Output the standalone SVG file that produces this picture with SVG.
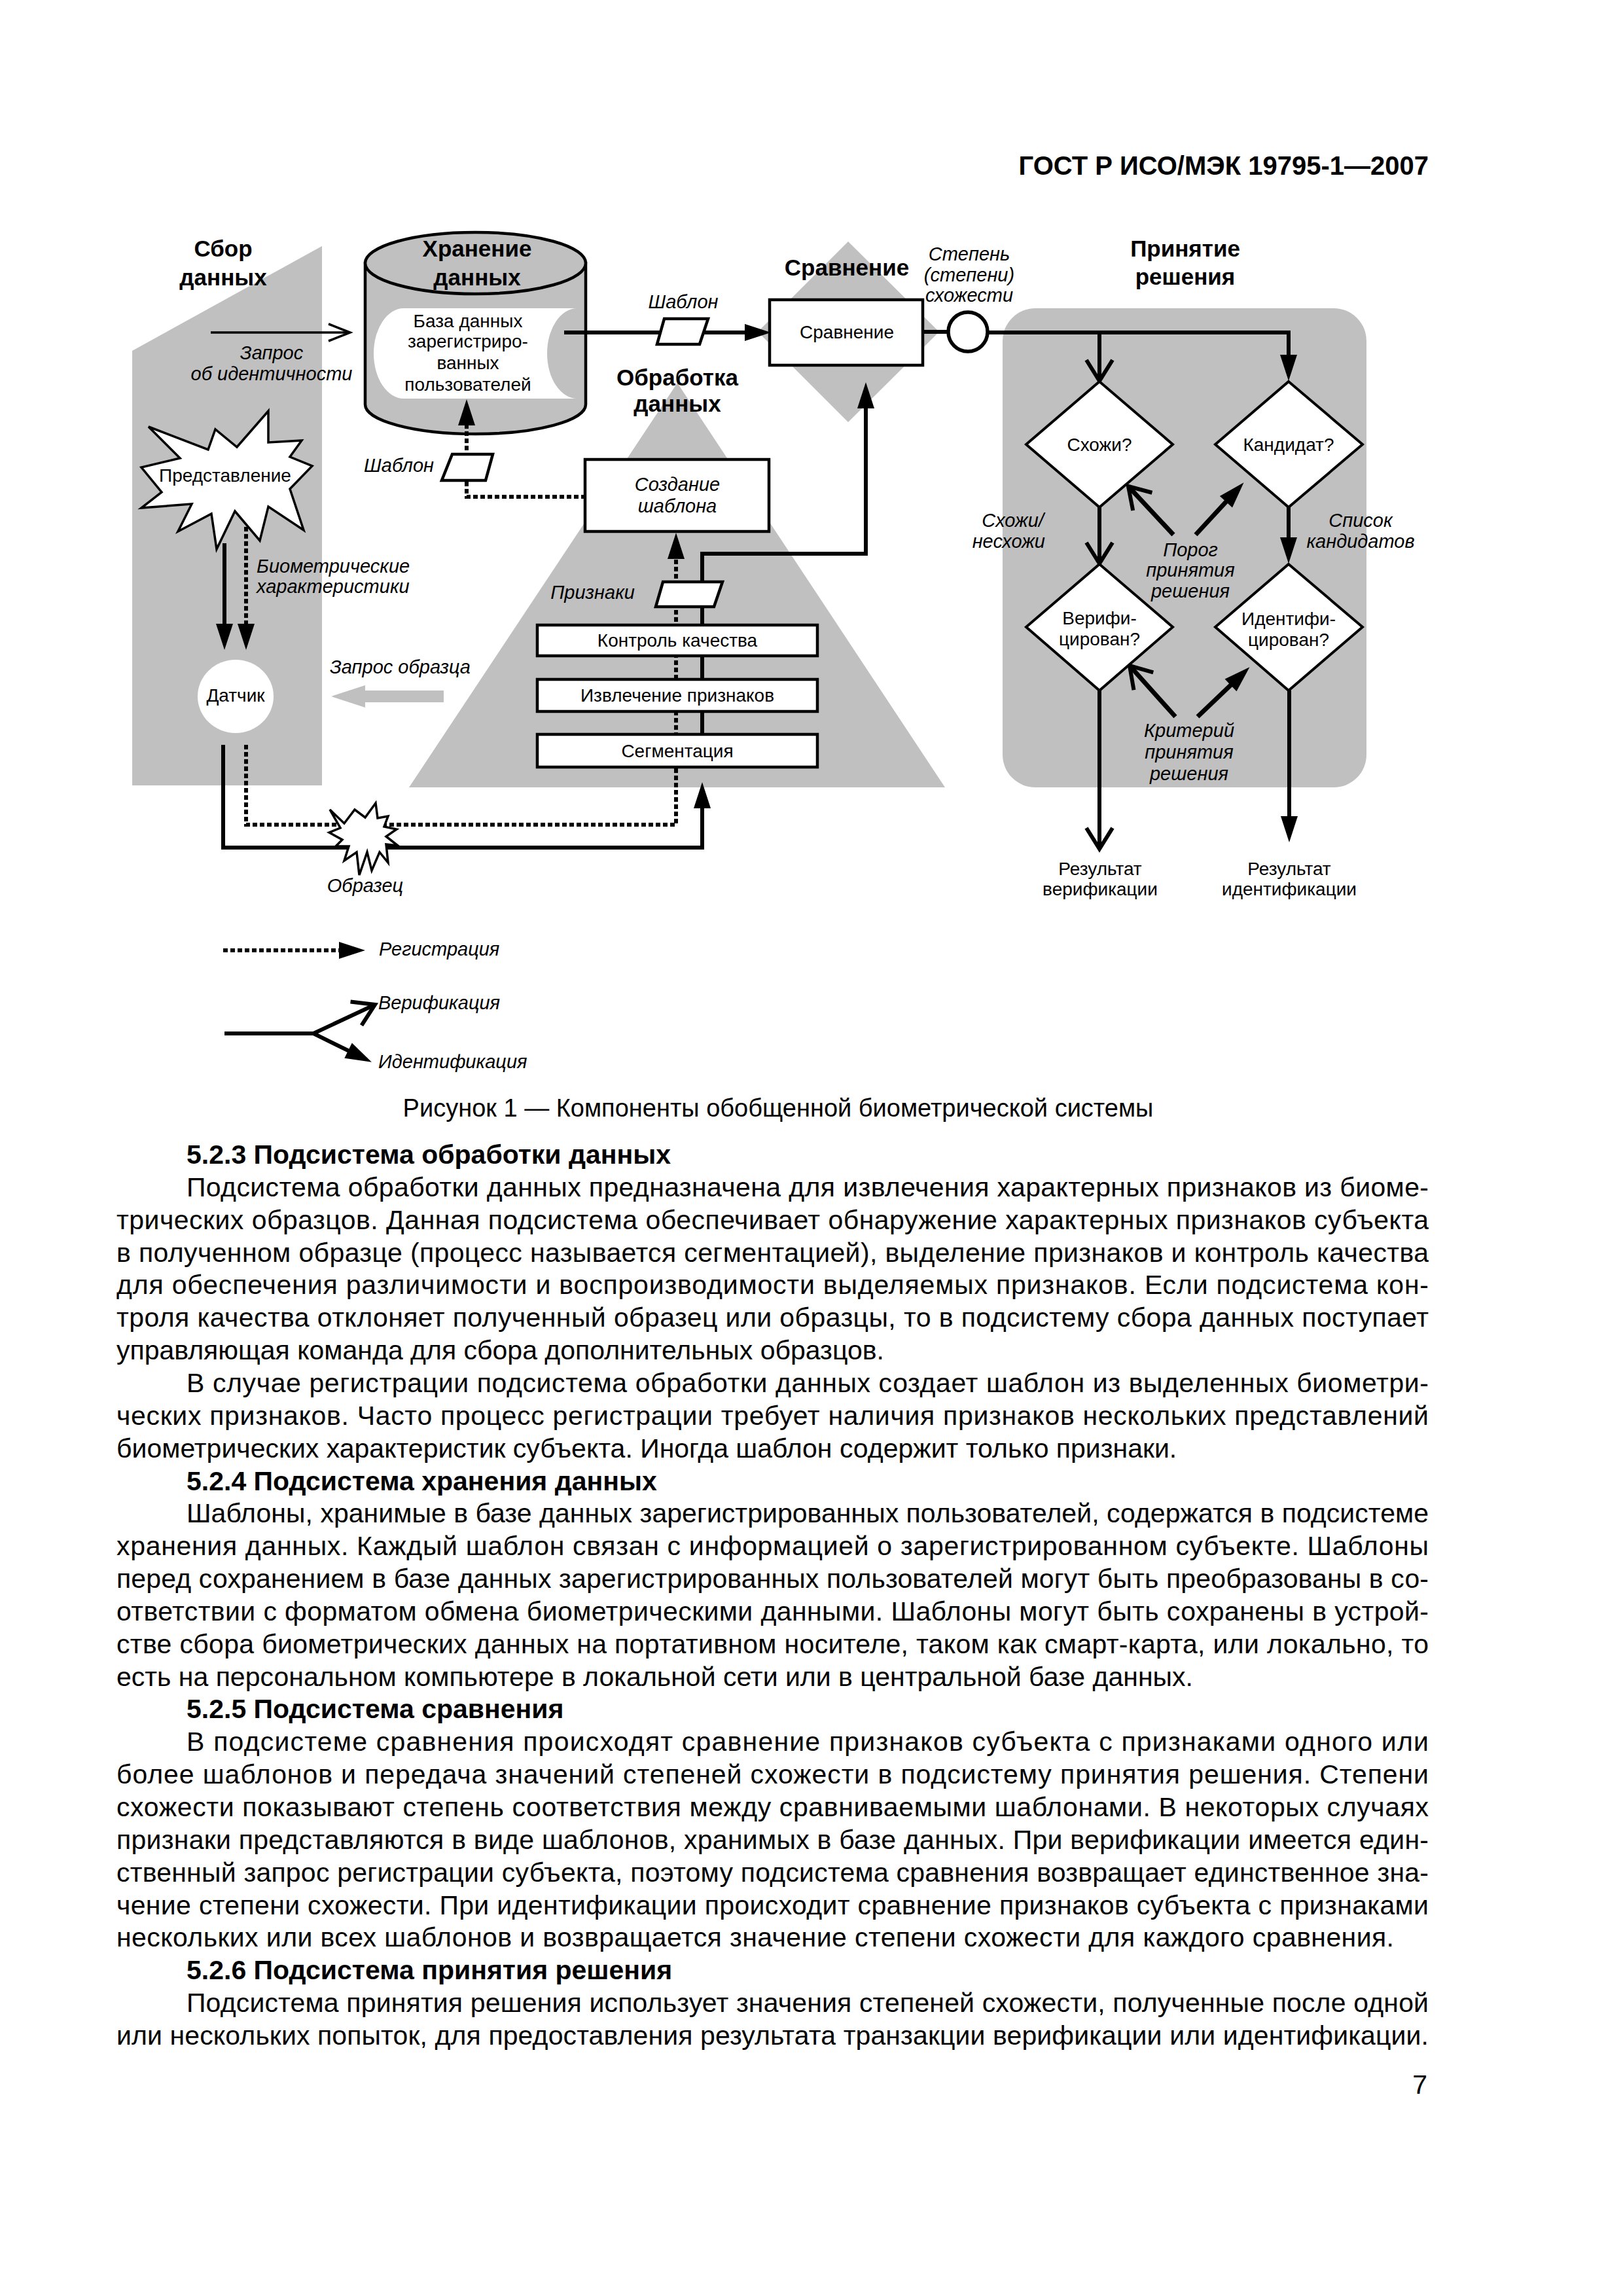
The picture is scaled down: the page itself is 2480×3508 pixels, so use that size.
<svg xmlns="http://www.w3.org/2000/svg" width="2480" height="3508" viewBox="0 0 2480 3508">
<defs>
<style>
.g{fill:#c0c0c0}
.ln{stroke:#000;stroke-width:6;fill:none}
.lt{stroke:#000;stroke-width:7;fill:none}
.dot{stroke:#000;stroke-width:6;fill:none;stroke-dasharray:7 4}
.box{fill:#fff;stroke:#000;stroke-width:4.5}
.dm{fill:#fff;stroke:#000;stroke-width:4}
.t{font-family:"Liberation Sans",Arial,sans-serif;font-size:28px;fill:#000}
.c{text-anchor:middle}
.e{text-anchor:end}
.i{font-style:italic;font-size:29px}
.b{font-weight:bold;font-size:35px}
.p{font-family:"Liberation Sans",Arial,sans-serif;font-size:41px;fill:#000}
.h{font-weight:bold}
</style>
<marker id="af" markerUnits="userSpaceOnUse" markerWidth="42" markerHeight="26" refX="20" refY="13" orient="auto" overflow="visible"><path d="M0,0 L40,13 L0,26 Z" fill="#000"/></marker>
<marker id="av" markerUnits="userSpaceOnUse" markerWidth="34" markerHeight="40" refX="32" refY="20" orient="auto" overflow="visible"><path d="M0,0 L32,20 L0,40" fill="none" stroke="#000" stroke-width="6"/></marker>
<marker id="avt" markerUnits="userSpaceOnUse" markerWidth="34" markerHeight="26" refX="33" refY="13" orient="auto" overflow="visible"><path d="M0,0 L33,13 L0,26" fill="none" stroke="#000" stroke-width="3.5"/></marker>
</defs>
<rect width="2480" height="3508" fill="#fff"/>

<text class="t h e" x="2183" y="267" style="font-size:40px">ГОСТ Р ИСО/МЭК 19795-1—2007</text>

<!-- background areas -->
<g id="bg-collection"><polygon class="g" points="202,536 492,376 492,1200 202,1200"/></g>
<g id="bg-processing"><polygon class="g" points="1035,585 1444,1203 625,1203"/></g>
<g id="bg-comparison"><polygon class="g" points="1296,369 1435,507 1296,645 1158,507"/></g>
<g id="bg-decision"><rect class="g" x="1532" y="471" width="556" height="732" rx="50"/></g>

<!-- titles -->
<g id="titles">
<text class="t b c" x="341" y="392">Сбор</text>
<text class="t b c" x="341" y="436">данных</text>
<text class="t b c" x="1294" y="421">Сравнение</text>
<text class="t b c" x="1035" y="589">Обработка</text>
<text class="t b c" x="1035" y="629">данных</text>
<text class="t b c" x="1811" y="392">Принятие</text>
<text class="t b c" x="1811" y="435">решения</text>
</g>

<!-- storage cylinder -->
<g id="storage">
<path d="M558,402 V618 A168.5,45 0 0 0 895,618 V402 Z" class="g" stroke="#000" stroke-width="4.5"/>
<ellipse cx="726.5" cy="402" rx="168.5" ry="47" class="g" stroke="#000" stroke-width="4.5"/>
<text class="t b c" x="729" y="392">Хранение</text>
<text class="t b c" x="729" y="436">данных</text>
<path d="M617,471 H882 A46,69 0 0 0 882,609 H617 A46,69 0 0 1 617,471 Z" fill="#fff"/>
<text class="t c" x="715" y="500">База данных</text>
<text class="t c" x="715" y="531">зарегистриро-</text>
<text class="t c" x="715" y="564">ванных</text>
<text class="t c" x="715" y="597">пользователей</text>
</g>

<!-- connectors -->
<g id="connectors">
<path class="dot" d="M895,759 H713 V630" marker-end="url(#af)"/>
<path class="ln" d="M862,508 H1158" marker-end="url(#af)"/>
<path class="ln" d="M322,508 H535" style="stroke-width:3.5" marker-end="url(#avt)"/>
<path class="ln" d="M343,830 V973" marker-end="url(#af)"/>
<path class="dot" d="M376,805 V973" marker-end="url(#af)"/>
<path class="dot" d="M376,1138 V1260 H1033 V834" marker-end="url(#af)"/>
<path class="ln" d="M341,1138 V1295 H1073 V1215" marker-end="url(#af)"/>
<path class="ln" d="M1073,1122 V846 H1323 V604" marker-end="url(#af)"/>
<path class="ln" d="M1410,507 H1449"/>
<path class="ln" d="M1509,508 H1969 V562" marker-end="url(#af)"/>
<path class="ln" d="M1680,508 V582" marker-end="url(#av)"/>
<path class="ln" d="M1969,774 V841" marker-end="url(#af)"/>
<path class="ln" d="M1680,774 V861" marker-end="url(#av)"/>
<path class="ln" d="M1680,1055 V1297" marker-end="url(#av)"/>
<path class="ln" d="M1970,1055 V1267" marker-end="url(#af)"/>
<path class="lt" d="M1793,817 L1724,743" marker-end="url(#av)"/>
<path class="lt" d="M1827,817 L1887,752" marker-end="url(#af)"/>
<path class="lt" d="M1796,1095 L1726,1017" marker-end="url(#av)"/>
<path class="lt" d="M1830,1095 L1895,1033" marker-end="url(#af)"/>
<polygon points="506,1064 558,1047 558,1055 678,1055 678,1073 558,1073 558,1081" fill="#c0c0c0"/>
</g>

<!-- collection nodes -->
<g id="representation">
<polygon class="box" style="stroke-width:3.5" points="410,628 362,683 329,656 318,687 227,652 275,700 216,714 247,752 216,776 293,770 272,812 323,785 331,839 359,781 397,826 410,774 464,810 443,747 477,712 443,698 461,673 410,676"/>
<text class="t c" x="344" y="736">Представление</text>
</g>
<g id="sensor">
<ellipse cx="360" cy="1064" rx="58" ry="56" fill="#fff"/>
<text class="t c" x="360" y="1072">Датчик</text>
</g>
<g id="sample">
<polygon class="box" style="stroke-width:3.5" points="504,1237 526,1258 542,1237 558,1249 574,1227 577,1250 593,1247 587,1263 606,1267 590,1278 608,1292 590,1290 593,1318 580,1302 568,1330 561,1302 549,1337 545,1302 526,1315 533,1293 513,1293 523,1283 503,1272 520,1265"/>
<text class="t i c" x="558" y="1363">Образец</text>
</g>

<!-- templates / features -->
<g id="template-storage"><polygon class="box" points="691,694 753,694 742,734 675,734"/></g>
<g id="template-compare"><polygon class="box" points="1015,487 1082,487 1069,526 1004,526"/></g>
<g id="features"><polygon class="box" points="1013,889 1104,889 1091,927 1002,927"/></g>

<!-- processing nodes -->
<g id="template-creation">
<rect class="box" x="894" y="702" width="281" height="110"/>
<text class="t i c" x="1035" y="750">Создание</text>
<text class="t i c" x="1035" y="783">шаблона</text>
</g>
<g id="quality"><rect class="box" x="821" y="955" width="428" height="47"/><text class="t c" x="1035" y="988">Контроль качества</text></g>
<g id="extraction"><rect class="box" x="821" y="1038" width="428" height="49"/><text class="t c" x="1035" y="1072">Извлечение признаков</text></g>
<g id="segmentation"><rect class="box" x="821" y="1122" width="428" height="50"/><text class="t c" x="1035" y="1157">Сегментация</text></g>

<!-- comparison -->
<g id="comparison"><rect class="box" x="1176" y="458" width="234" height="100"/><text class="t c" x="1294" y="517">Сравнение</text></g>
<g id="score"><circle cx="1479" cy="507" r="30" fill="#fff" stroke="#000" stroke-width="5.5"/></g>

<!-- decision -->
<g id="match"><polygon class="dm" points="1680,583 1792,679 1680,775 1568,679"/><text class="t c" x="1680" y="689">Схожи?</text></g>
<g id="candidate"><polygon class="dm" points="1969,583 2082,679 1969,775 1857,679"/><text class="t c" x="1969" y="689">Кандидат?</text></g>
<g id="verified"><polygon class="dm" points="1680,862 1792,958 1680,1055 1568,958"/><text class="t c" x="1680" y="954">Верифи-</text><text class="t c" x="1680" y="986">цирован?</text></g>
<g id="identified"><polygon class="dm" points="1969,862 2082,958 1969,1055 1857,958"/><text class="t c" x="1969" y="955">Идентифи-</text><text class="t c" x="1969" y="987">цирован?</text></g>

<!-- labels -->
<g id="labels">
<text class="t i c" x="415" y="549">Запрос</text>
<text class="t i c" x="415" y="581">об идентичности</text>
<text class="t i" x="392" y="875">Биометрические</text>
<text class="t i" x="392" y="906">характеристики</text>
<text class="t i e" x="663" y="721">Шаблон</text>
<text class="t i c" x="1044" y="471">Шаблон</text>
<text class="t i e" x="970" y="915">Признаки</text>
<text class="t i" x="504" y="1029">Запрос образца</text>
<text class="t i c" x="1481" y="398">Степень</text>
<text class="t i c" x="1481" y="430">(степени)</text>
<text class="t i c" x="1481" y="461">схожести</text>
<text class="t i e" x="1595" y="805">Схожи/</text>
<text class="t i e" x="1597" y="837">несхожи</text>
<text class="t i c" x="2079" y="805">Список</text>
<text class="t i c" x="2079" y="837">кандидатов</text>
<text class="t i c" x="1819" y="850">Порог</text>
<text class="t i c" x="1819" y="881">принятия</text>
<text class="t i c" x="1819" y="913">решения</text>
<text class="t i c" x="1817" y="1126">Критерий</text>
<text class="t i c" x="1817" y="1159">принятия</text>
<text class="t i c" x="1817" y="1192">решения</text>
<text class="t c" x="1681" y="1337">Результат</text>
<text class="t c" x="1681" y="1368">верификации</text>
<text class="t c" x="1970" y="1337">Результат</text>
<text class="t c" x="1970" y="1368">идентификации</text>
</g>

<!-- legend -->
<g id="legend">
<path class="dot" d="M341,1452 H538" marker-end="url(#af)"/>
<text class="t i" x="579" y="1460">Регистрация</text>
<path class="ln" d="M343,1579 H479 L573,1535" marker-end="url(#av)"/>
<path class="ln" d="M479,1579 L550,1614" marker-end="url(#af)"/>
<text class="t i" x="578" y="1542">Верификация</text>
<text class="t i" x="578" y="1632">Идентификация</text>
</g>

<text class="p c" x="1189" y="1706" style="font-size:38px">Рисунок 1 — Компоненты обобщенной биометрической системы</text>

<g id="body">
<text class="p h" x="285" y="1778">5.2.3 Подсистема обработки данных</text>
<text class="p" x="285" y="1828" textLength="1898">Подсистема обработки данных предназначена для извлечения характерных признаков из биоме-</text>
<text class="p" x="178" y="1878" textLength="2005">трических образцов. Данная подсистема обеспечивает обнаружение характерных признаков субъекта</text>
<text class="p" x="178" y="1928" textLength="2005">в полученном образце (процесс называется сегментацией), выделение признаков и контроль качества</text>
<text class="p" x="178" y="1977" textLength="2005">для обеспечения различимости и воспроизводимости выделяемых признаков. Если подсистема кон-</text>
<text class="p" x="178" y="2027" textLength="2005">троля качества отклоняет полученный образец или образцы, то в подсистему сбора данных поступает</text>
<text class="p" x="178" y="2077">управляющая команда для сбора дополнительных образцов.</text>
<text class="p" x="285" y="2127" textLength="1898">В случае регистрации подсистема обработки данных создает шаблон из выделенных биометри-</text>
<text class="p" x="178" y="2177" textLength="2005">ческих признаков. Часто процесс регистрации требует наличия признаков нескольких представлений</text>
<text class="p" x="178" y="2227">биометрических характеристик субъекта. Иногда шаблон содержит только признаки.</text>
<text class="p h" x="285" y="2277">5.2.4 Подсистема хранения данных</text>
<text class="p" x="285" y="2326" textLength="1898">Шаблоны, хранимые в базе данных зарегистрированных пользователей, содержатся в подсистеме</text>
<text class="p" x="178" y="2376" textLength="2005">хранения данных. Каждый шаблон связан с информацией о зарегистрированном субъекте. Шаблоны</text>
<text class="p" x="178" y="2426" textLength="2005">перед сохранением в базе данных зарегистрированных пользователей могут быть преобразованы в со-</text>
<text class="p" x="178" y="2476" textLength="2005">ответствии с форматом обмена биометрическими данными. Шаблоны могут быть сохранены в устрой-</text>
<text class="p" x="178" y="2526" textLength="2005">стве сбора биометрических данных на портативном носителе, таком как смарт-карта, или локально, то</text>
<text class="p" x="178" y="2576">есть на персональном компьютере в локальной сети или в центральной базе данных.</text>
<text class="p h" x="285" y="2625">5.2.5 Подсистема сравнения</text>
<text class="p" x="285" y="2675" textLength="1898">В подсистеме сравнения происходят сравнение признаков субъекта с признаками одного или</text>
<text class="p" x="178" y="2725" textLength="2005">более шаблонов и передача значений степеней схожести в подсистему принятия решения. Степени</text>
<text class="p" x="178" y="2775" textLength="2005">схожести показывают степень соответствия между сравниваемыми шаблонами. В некоторых случаях</text>
<text class="p" x="178" y="2825" textLength="2005">признаки представляются в виде шаблонов, хранимых в базе данных. При верификации имеется един-</text>
<text class="p" x="178" y="2875" textLength="2005">ственный запрос регистрации субъекта, поэтому подсистема сравнения возвращает единственное зна-</text>
<text class="p" x="178" y="2925" textLength="2005">чение степени схожести. При идентификации происходит сравнение признаков субъекта с признаками</text>
<text class="p" x="178" y="2974" textLength="1952">нескольких или всех шаблонов и возвращается значение степени схожести для каждого  сравнения.</text>
<text class="p h" x="285" y="3024">5.2.6 Подсистема принятия решения</text>
<text class="p" x="285" y="3074" textLength="1898">Подсистема принятия решения использует значения степеней схожести, полученные после одной</text>
<text class="p" x="178" y="3124" textLength="2005">или нескольких попыток, для предоставления результата транзакции верификации или идентификации.</text>
<text class="p e" x="2181" y="3199">7</text>
</g>
</svg>
